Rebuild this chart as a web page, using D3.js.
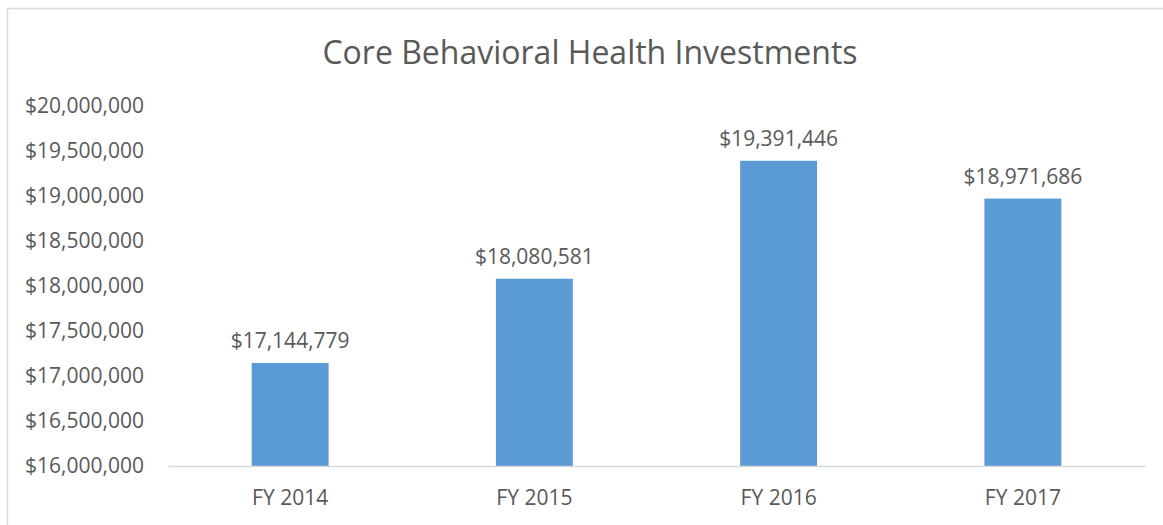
<!DOCTYPE html>
<html>
<head>
<meta charset="utf-8">
<script src="https://cdn.jsdelivr.net/npm/d3@7"></script>
<style>
  body { margin: 0; background: #fff; }
  text { font-family: "Open Sans", "Noto Sans", sans-serif; fill: #595959; }
</style>
</head>
<body>
<div id="chart"></div>
<script>
// chart data
const categories = ['FY 2014', 'FY 2015', 'FY 2016', 'FY 2017'];
const values = [17144779, 18080581, 19391446, 18971686];
const yTicks = [16000000, 16500000, 17000000, 17500000, 18000000, 18500000, 19000000, 19500000, 20000000];
const title = 'Core Behavioral Health Investments';

const W = 1163, H = 525;
const margin = {top: 106, right: 18, bottom: 59, left: 168};
const width = W - margin.left - margin.right;
const height = H - margin.top - margin.bottom;
const fontSize = '21px';

const svg = d3.select('#chart').append('svg')
    .attr('width', W)
    .attr('height', H);

// outer chart frame (cut off at right/bottom in the original)
svg.append('rect')
    .attr('x', 7.5).attr('y', 8.5)
    .attr('width', W + 20).attr('height', H + 20)
    .attr('fill', 'none')
    .attr('stroke', '#d9d9d9')
    .attr('stroke-width', 1.5);

svg.append('text')
    .attr('x', 590).attr('y', 64)
    .attr('text-anchor', 'middle')
    .style('font-size', '32px')
    .text(title);

const g = svg.append('g')
    .attr('transform', `translate(${margin.left}, ${margin.top})`);

const x = d3.scaleBand(categories, [0, width]).paddingInner(0.685).paddingOuter(0.3425);
const y = d3.scaleLinear([16000000, 20000000], [height, 0]);

const fmt = d3.format('$,');

// y axis labels
g.append('g')
    .attr('class', 'y-axis')
    .call(d3.axisLeft(y).tickValues(yTicks).tickFormat(fmt).tickSize(0).tickPadding(24))
    .call(a => a.select('.domain').remove())
    .selectAll('text')
    .style('font-size', fontSize)
    .style('font-family', '"Open Sans", sans-serif')
    .attr('fill', '#595959');

// bars
g.selectAll('rect.bar')
    .data(values)
    .enter().append('rect')
    .attr('class', 'bar')
    .attr('x', (d, i) => x(categories[i]))
    .attr('y', d => y(d))
    .attr('width', x.bandwidth())
    .attr('height', d => height - y(d))
    .attr('fill', '#5b9bd5');

// value labels
g.selectAll('text.value')
    .data(values)
    .enter().append('text')
    .attr('class', 'value')
    .attr('x', (d, i) => x(categories[i]) + x.bandwidth() / 2)
    .attr('y', d => y(d) - 15)
    .attr('text-anchor', 'middle')
    .style('font-size', fontSize)
    .text(d => fmt(d));

// x axis
g.append('g')
    .attr('class', 'x-axis')
    .attr('transform', `translate(0, ${height})`)
    .call(d3.axisBottom(x).tickSize(0).tickPadding(24).tickSizeOuter(0))
    .call(a => a.select('.domain').attr('stroke', '#d9d9d9').attr('stroke-width', 1.5))
    .selectAll('text')
    .style('font-size', fontSize)
    .style('font-family', '"Open Sans", sans-serif')
    .attr('fill', '#595959');
</script>
</body>
</html>
